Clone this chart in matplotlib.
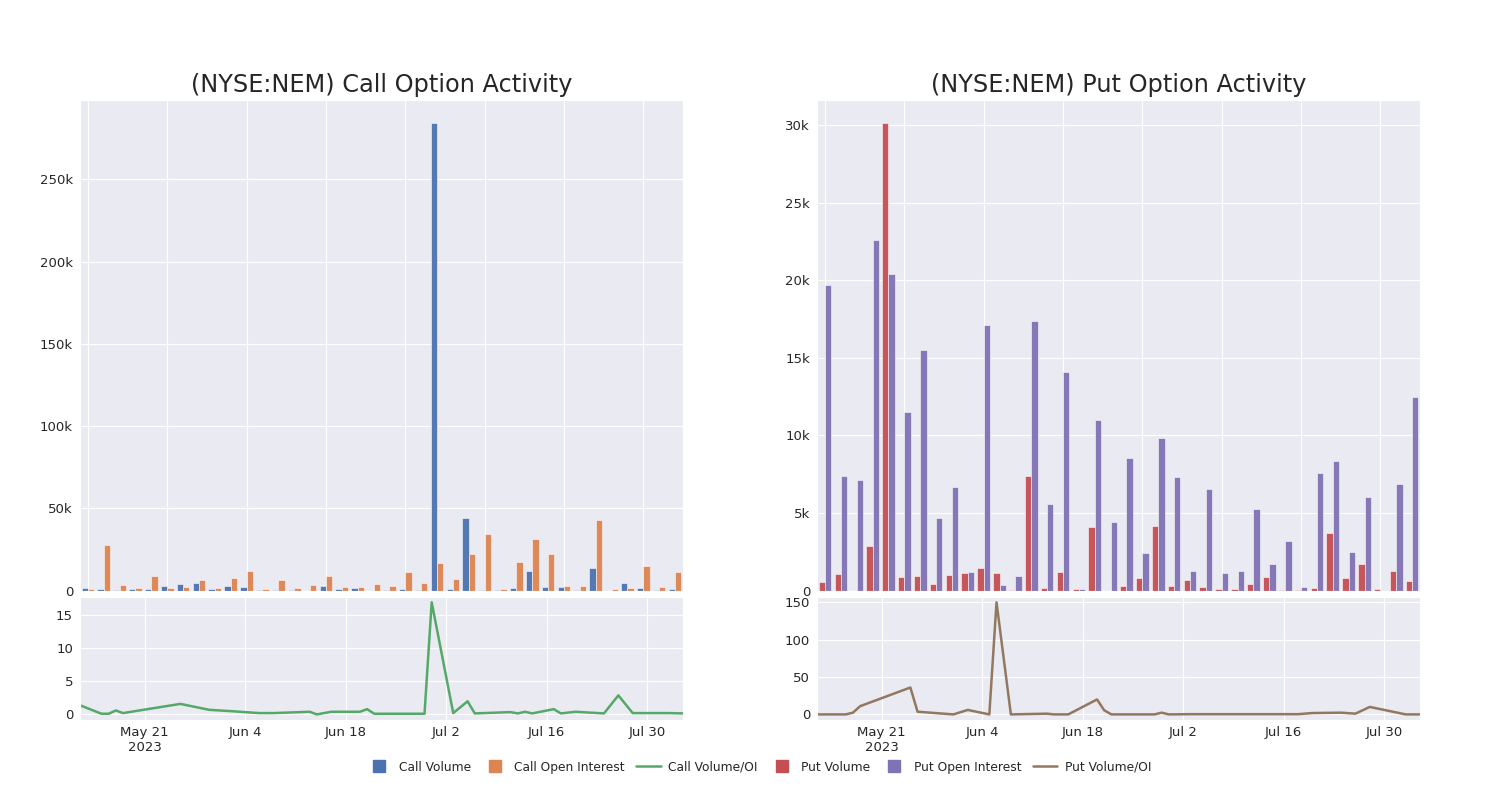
import numpy as np
import pandas as pd
import matplotlib
matplotlib.use("Agg")
import matplotlib.pyplot as plt
import seaborn as sns
from matplotlib.lines import Line2D

sns.set_style("darkgrid")
plt.rcParams['font.family'] = ['DejaVu Sans']

dates = pd.to_datetime([
    "2023-05-12", "2023-05-15", "2023-05-16", "2023-05-17", "2023-05-18",
    "2023-05-25", "2023-05-26", "2023-05-30", "2023-05-31", "2023-06-02",
    "2023-06-05", "2023-06-06", "2023-06-08", "2023-06-13", "2023-06-14",
    "2023-06-16", "2023-06-20", "2023-06-21", "2023-06-22", "2023-06-23",
    "2023-06-28", "2023-06-29", "2023-06-30", "2023-07-03", "2023-07-05",
    "2023-07-06", "2023-07-11", "2023-07-12", "2023-07-13", "2023-07-14",
    "2023-07-17", "2023-07-18", "2023-07-20", "2023-07-24", "2023-07-26",
    "2023-07-28", "2023-08-02", "2023-08-04"])

call_volume = [1600, 800, 300, 800, 1200, 2600, 3900, 4500, 800, 3100,
               2400, 150, 400, 400, 0, 3100, 800, 1400, 0, 400,
               800, 300, 284000, 800, 44000, 400, 200, 1600, 11800, 2000,
               2000, 300, 13600, 0, 4500, 1800, 400, 800]
call_oi = [1200, 27900, 3700, 1400, 9200, 1800, 2400, 6700, 1400, 7900,
           12200, 1200, 6300, 1600, 3700, 8800, 2400, 2000, 4000, 2900,
           11200, 4500, 16700, 7300, 22400, 34200, 800, 17500, 31400, 22200,
           3100, 2900, 43000, 800, 1600, 14900, 2400, 11400]
call_ratio = [1.3, 0.0, 0.0, 0.5, 0.1, 1.33, 1.5, 0.6, 0.53, 0.4,
              0.17, 0.1, 0.1, 0.3, -0.1, 0.3, 0.3, 0.7, 0.0, 0.0,
              0.0, 0.0, 17.0, 0.1, 1.9, 0.05, 0.25, 0.05, 0.3, 0.05,
              0.7, 0.05, 0.3, 0.05, 2.8, 0.1, 0.1, 0.05]

put_volume = [540, 1080, 0, 2890, 30100, 860, 930, 430, 1000, 1160,
              1470, 1140, 60, 7400, 150, 1190, 90, 4120, 0, 320,
              820, 4140, 320, 710, 240, 110, 130, 430, 900, 20,
              20, 170, 3700, 820, 1700, 90, 1250, 650]
put_oi = [19700, 7380, 7160, 22560, 20400, 11500, 15500, 4660, 6700, 1190,
          17100, 390, 970, 17400, 5600, 14060, 90, 11000, 4440, 8560,
          2460, 9860, 7310, 1270, 6540, 1140, 1290, 5240, 1700, 3190,
          220, 7600, 8330, 2520, 6040, 0, 6880, 12500]
put_ratio = [0, 0, 0, 2.3, 11, 36, 3.6, 0.7, 0, 6,
             0, 150, 0, 1, 0, 0, 20, 5.5, 0, 0,
             0, 2.3, 0, 0.3, 0.3, 0.3, 0.3, 0.3, 0.3, 0.3,
             0.3, 0.3, 1.8, 2.3, 1, 10, 0, 0]

tick_dates = pd.to_datetime(["2023-05-21", "2023-06-04", "2023-06-18",
                             "2023-07-02", "2023-07-16", "2023-07-30"])
tick_labels = ["May 21\n2023", "Jun 4", "Jun 18", "Jul 2", "Jul 16", "Jul 30"]

blue, orange, green, red, purple, brown = sns.color_palette("deep")[:6]


def kfmt(v, pos):
    if v == 0:
        return "0"
    return f"{v/1000:g}k"


def draw_panel(left, title, vol, oi, ratio, c_vol, c_oi, c_ratio, yticks_line, yticks_bar):
    ax = fig.add_axes([left, 0.2616, 0.402, 0.6134])
    x = np.arange(len(vol))
    ax.bar(x - 0.2, vol, width=0.4, color=c_vol, edgecolor="white", linewidth=0.4, alpha=0.95)
    ax.bar(x + 0.2, oi, width=0.4, color=c_oi, edgecolor="white", linewidth=0.4, alpha=0.95)
    ax.set_xlim(-0.5, len(vol) - 0.5)
    ax.set_xticks(np.arange(0, len(vol), 5))
    ax.tick_params(axis="x", labelbottom=False)
    ax.set_yticks(yticks_bar)
    ax.yaxis.set_major_formatter(plt.FuncFormatter(kfmt))
    ax.tick_params(axis="y", labelsize=9.5, colors="#262626", pad=1.5)
    ax.set_title(title, fontsize=17.3, pad=6, color="#262626")

    ax2 = fig.add_axes([left, 0.1, 0.402, 0.1541])
    ax2.plot(dates, ratio, color=c_ratio, linewidth=1.8)
    ax2.set_xlim(dates[0], dates[-1])
    ax2.set_xticks(tick_dates)
    ax2.set_xticklabels(tick_labels)
    ax2.set_yticks(yticks_line)
    ax2.tick_params(axis="y", labelsize=9.5, colors="#262626", pad=1.5)
    ax2.tick_params(axis="x", labelsize=9.5, colors="#262626", pad=0.5)
    return ax, ax2


fig = plt.figure(figsize=(15, 8), dpi=100)

draw_panel(0.0533, "(NYSE:NEM) Call Option Activity", call_volume, call_oi, call_ratio,
           blue, orange, green, [0, 5, 10, 15], [0, 50000, 100000, 150000, 200000, 250000])
draw_panel(0.5447, "(NYSE:NEM) Put Option Activity", put_volume, put_oi, put_ratio,
           red, purple, brown, [0, 50, 100, 150], [0, 5000, 10000, 15000, 20000, 25000, 30000])

handles = [
    Line2D([], [], marker="s", linestyle="", color=blue, markersize=9),
    Line2D([], [], marker="s", linestyle="", color=orange, markersize=9),
    Line2D([], [], color=green, linewidth=1.8),
    Line2D([], [], marker="s", linestyle="", color=red, markersize=9),
    Line2D([], [], marker="s", linestyle="", color=purple, markersize=9),
    Line2D([], [], color=brown, linewidth=1.8),
]
labels = ["Call Volume", "Call Open Interest", "Call Volume/OI",
          "Put Volume", "Put Open Interest", "Put Volume/OI"]
fig.legend(handles, labels, loc="center", bbox_to_anchor=(0.506, 0.041), ncol=6,
           frameon=False, fontsize=8.8, handlelength=2.0, handletextpad=0.6,
           columnspacing=0.95)

fig.savefig("out.png", dpi=100)
